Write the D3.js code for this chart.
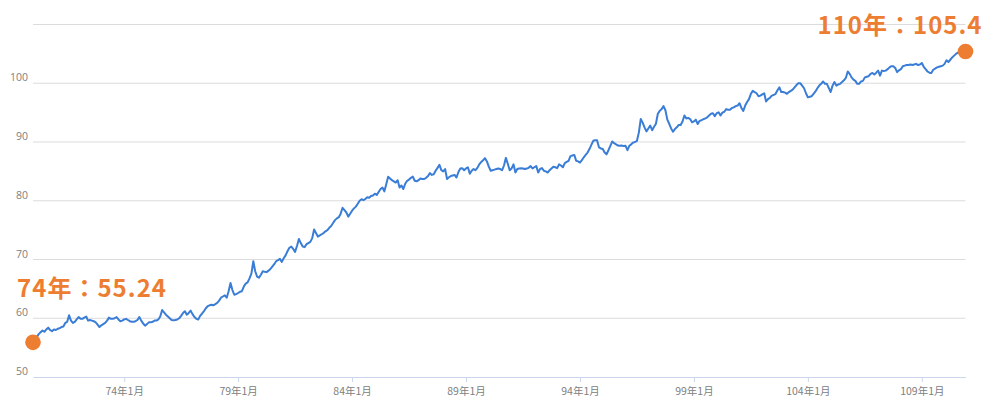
<!DOCTYPE html>
<html>
<head>
<meta charset="utf-8">
<script src="https://cdn.jsdelivr.net/npm/d3@7"></script>
<style>
  html, body { margin: 0; padding: 0; background: #fff; }
  svg { display: block; }
</style>
</head>
<body>
<svg id="chart" width="1000" height="399"></svg>
<script>
// ---- data (monthly index, 民國70年1月 – 110年12月) ----
const years = [70,71,72,73,74,75,76,77,78,79,80,81,82,83,84,85,86,87,88,89,90,91,92,93,94,95,96,97,98,99,100,101,102,103,104,105,106,107,108,109,110];
const monthNames = [1,2,3,4,5,6,7,8,9,10,11,12];
const indexValues = [
  55.9,56.3,56.8,57.3,57.6,57.9,57.7,58.1,58.4,58.0,57.8,58.1,   // 70
  58.0,58.2,58.3,58.5,58.6,59.2,59.4,60.5,59.6,59.2,59.4,59.8,   // 71
  60.2,59.9,59.9,60.1,60.3,59.6,59.7,59.6,59.5,59.3,58.9,58.5,   // 72
  58.8,59.0,59.2,59.6,60.1,59.9,59.9,60.0,60.2,59.8,59.5,59.6,   // 73
  59.8,59.9,59.7,59.5,59.4,59.4,59.5,59.7,60.2,59.6,59.1,58.75,  // 74
  59.0,59.3,59.3,59.4,59.6,59.6,59.8,60.3,61.4,61.0,60.6,60.3,   // 75
  60.0,59.7,59.65,59.7,59.8,60.0,60.4,60.9,61.2,60.6,60.9,61.3,  // 76
  60.7,60.2,59.9,59.8,60.4,60.8,61.2,61.7,62.05,62.2,62.3,62.2,  // 77
  62.4,62.6,63.0,63.5,63.7,63.9,63.5,64.6,66.0,64.8,64.0,64.1,   // 78
  64.3,64.5,64.6,65.4,65.9,66.1,66.8,67.6,69.7,68.0,67.1,66.9,   // 79
  67.4,68.0,67.9,67.85,68.1,68.4,68.8,69.2,69.7,69.9,70.1,69.6,  // 80
  70.2,70.7,71.4,72.0,72.2,71.8,71.3,72.3,73.5,72.8,72.2,72.1,   // 81
  72.6,72.8,73.0,73.6,75.1,74.5,73.9,74.1,74.3,74.5,74.8,75.0,   // 82
  75.4,75.7,76.2,76.7,77.0,77.2,77.8,78.8,78.4,78.0,77.3,77.8,   // 83
  78.3,78.7,79.0,79.5,80.0,80.25,80.1,80.3,80.6,80.5,80.8,80.9,  // 84
  81.2,81.0,81.5,82.0,82.25,81.6,82.8,84.1,83.8,83.5,83.3,83.1,  // 85
  83.5,82.25,82.6,82.0,82.9,83.4,83.6,83.9,84.1,83.4,83.3,83.5,  // 86
  83.8,83.7,83.7,83.9,84.2,84.7,84.4,84.5,85.1,85.6,86.1,85.2,   // 87
  85.0,85.4,83.7,84.0,84.2,84.3,84.4,83.95,84.9,85.5,85.55,85.2, // 88
  85.5,85.7,84.6,85.1,85.4,85.2,85.6,86.2,86.6,86.9,87.25,86.7,  // 89
  85.8,85.1,85.2,85.3,85.4,85.5,85.4,85.2,86.0,87.3,86.3,85.2,   // 90
  85.5,86.2,84.8,85.4,85.5,85.55,85.5,85.4,85.5,85.6,85.9,85.5,  // 91
  85.7,85.9,84.8,85.4,85.55,85.1,85.0,84.8,85.2,85.5,85.8,85.7,  // 92
  85.55,86.2,86.0,85.7,86.4,86.6,86.8,87.6,87.7,87.8,86.8,86.7,  // 93
  86.5,86.9,87.4,87.8,88.2,88.8,89.5,90.2,90.3,90.3,89.1,88.9,   // 94
  88.8,88.2,87.9,88.6,89.35,90.1,89.8,89.6,89.4,89.35,89.4,89.3, // 95
  89.35,88.6,89.35,89.6,89.9,90.0,90.2,91.6,93.9,93.3,92.5,91.8, // 96
  92.3,92.8,92.0,92.6,93.1,94.8,95.3,95.6,96.1,95.4,93.8,93.1,   // 97
  92.3,91.75,92.2,92.5,92.9,92.9,93.5,94.5,94.0,94.1,93.9,93.35, // 98
  93.5,93.8,93.05,93.6,93.7,93.9,94.0,94.2,94.5,94.8,94.9,94.4,  // 99
  94.9,95.05,94.5,95.0,95.15,95.6,95.5,95.5,95.8,95.9,96.1,96.2, // 100
  96.6,95.8,95.3,96.2,96.8,97.3,98.2,98.7,98.5,98.3,97.8,97.9,   // 101
  98.1,98.3,96.9,97.3,97.5,97.9,98.0,98.2,98.8,99.3,98.5,98.5,   // 102
  98.4,98.2,98.5,98.7,98.9,99.3,99.7,100.0,100.0,99.6,99.15,98.3, // 103
  97.6,97.7,97.8,98.2,98.6,99.15,99.6,99.9,100.3,99.9,99.9,99.2, // 104
  98.5,99.6,100.2,99.6,99.8,99.9,100.2,100.5,100.9,102.0,101.6,101.0, // 105
  100.6,100.4,99.9,99.9,100.3,100.4,101.0,101.1,101.2,101.6,101.75,101.5, // 106
  101.8,102.15,101.3,102.15,102.1,102.15,102.4,102.7,102.9,102.9,102.6,101.9, // 107
  102.2,102.4,102.9,103.0,103.1,103.1,103.2,103.1,103.2,103.3,103.1,103.2, // 108
  103.45,102.8,102.4,102.0,101.8,101.75,102.3,102.5,102.7,102.8,102.9,103.0, // 109
  103.3,103.9,103.6,104.0,104.4,104.7,105.0,105.2,105.3,105.3,105.35,105.4  // 110
];
const yTicks = [50, 60, 70, 80, 90, 100, 110];
const yTickLabels = ["50", "60", "70", "80", "90", "100", ""];
const xTickLabels = ["74年1月", "79年1月", "84年1月", "89年1月", "94年1月", "99年1月", "104年1月", "109年1月"];
const annotationLabels = ["74年：55.24", "110年：105.4"];

// ---- build categories ----
const categories = [];
years.forEach(y => monthNames.forEach(m => categories.push(y + "年" + m + "月")));
const series = categories.map((c, i) => ({ cat: c, v: indexValues[i] }));

// ---- scales ----
const svg = d3.select("#chart");
const x = d3.scalePoint().domain(categories).range([33, 965.5]);
const y = d3.scaleLinear().domain([50, 110]).range([377, 24.5]);

// gridlines
svg.append("g").selectAll("line")
  .data(yTicks.filter(t => t > 50))
  .join("line")
  .attr("x1", 33).attr("x2", 965.5)
  .attr("y1", d => y(d)).attr("y2", d => y(d))
  .attr("stroke", "#dcdcdc").attr("stroke-width", 1.2);

// y labels
svg.append("g").selectAll("text")
  .data(yTicks.map((t, i) => ({ t, label: yTickLabels[i] })))
  .join("text")
  .attr("x", 28).attr("y", d => y(d.t) - 2)
  .attr("text-anchor", "end")
  .attr("font-family", "'Open Sans', 'Noto Sans', sans-serif")
  .attr("font-size", 10.5)
  .attr("fill", "#808080")
  .text(d => d.label);

// x axis
const xAxis = d3.axisBottom(x).tickValues(xTickLabels).tickSize(5).tickSizeOuter(0).tickPadding(6);
const gx = svg.append("g").attr("transform", `translate(0,${y(50)})`).call(xAxis);
gx.select(".domain").attr("stroke", "#ccd6eb").attr("stroke-width", 1.2);
gx.selectAll(".tick line").attr("stroke", "#ccd6eb");
gx.selectAll(".tick text")
  .attr("font-family", "'Noto Sans CJK TC', sans-serif")
  .attr("font-size", 10.5)
  .attr("fill", "#808080");

// line
const line = d3.line().x(d => x(d.cat)).y(d => y(d.v)).curve(d3.curveLinear);
svg.append("path")
  .datum(series)
  .attr("d", line)
  .attr("fill", "none")
  .attr("stroke", "#3a7dd6")
  .attr("stroke-width", 2)
  .attr("stroke-linejoin", "round");

// annotation dots + labels
const first = series[0], last = series[series.length - 1];
const ann = [
  { d: first, label: annotationLabels[0], anchor: "start", dx: -16, dy: -45, w: 149 },
  { d: last, label: annotationLabels[1], anchor: "end", dx: 16, dy: -18, w: 164 }
];
svg.append("g").selectAll("circle")
  .data(ann).join("circle")
  .attr("cx", a => x(a.d.cat)).attr("cy", a => y(a.d.v))
  .attr("r", 7.8).attr("fill", "#ED7D31");
svg.append("g").selectAll("text")
  .data(ann).join("text")
  .attr("x", a => x(a.d.cat) + a.dx).attr("y", a => y(a.d.v) + a.dy)
  .attr("text-anchor", a => a.anchor)
  .attr("font-family", "'Noto Sans CJK TC', sans-serif")
  .attr("font-weight", "bold")
  .attr("font-size", 24)
  .attr("textLength", a => a.w)
  .attr("lengthAdjust", "spacing")
  .attr("fill", "#ED7D31")
  .text(a => a.label);
</script>
</body>
</html>
